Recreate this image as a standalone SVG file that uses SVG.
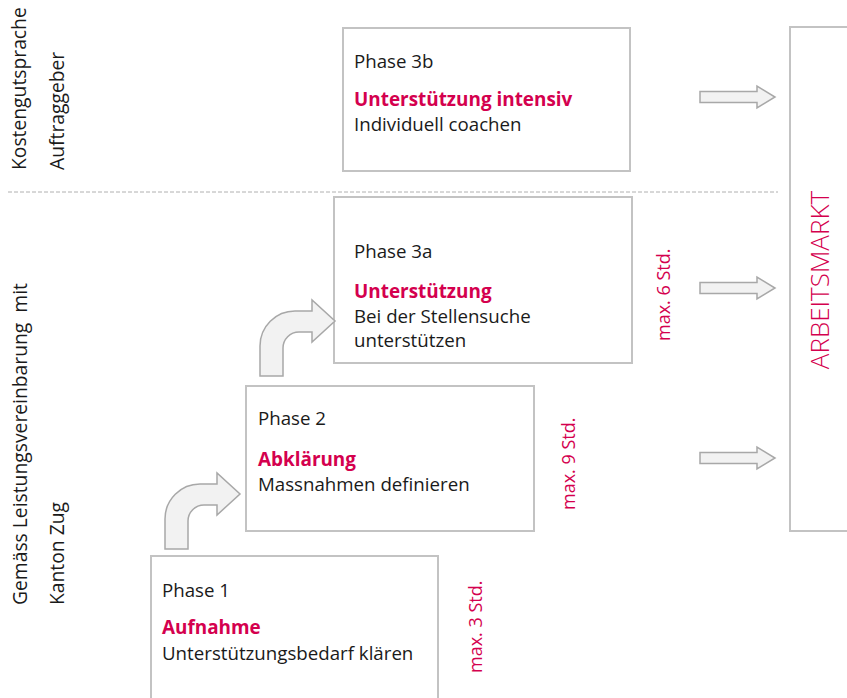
<svg xmlns="http://www.w3.org/2000/svg" width="847" height="698" viewBox="0 0 847 698">
<style>
.box{fill:#fff;stroke:#c3c3c3;stroke-width:2}
.t{font-family:"Open Sans","Liberation Sans",sans-serif;font-size:18.7px;fill:#1a1a1a}
.h{font-family:"Open Sans","Liberation Sans",sans-serif;font-size:18.9px;font-weight:bold;fill:#d4004e}
.side{font-family:"Open Sans","Liberation Sans",sans-serif;font-size:19.3px;fill:#1a1a1a}
.max{font-family:"Open Sans","Liberation Sans",sans-serif;font-size:18px;fill:#d4004e}
.am{font-family:"Open Sans","Liberation Sans",sans-serif;font-size:26px;font-weight:300;fill:#d4004e}
.arr{fill:#f2f2f2;stroke:#a8a8a8;stroke-width:1.5;stroke-linejoin:miter}
</style>
<defs>
<path id="straight" d="M0,-5.5 H57 V-11 L75,0 L57,11 V5.5 H0 Z"/>
<path id="bent" d="M165,549 V519 A35,35 0 0 1 200,484 H217 V473 L240,494 L217,515 V505 H204 A16,16 0 0 0 188,521 V549 Z"/>
</defs>
<rect width="847" height="698" fill="#fff"/>
<g id="labels">
<text class="side" transform="translate(26,170) rotate(-90)">Kostengutsprache</text>
<text class="side" transform="translate(64,170) rotate(-90)">Auftraggeber</text>
<text class="side" transform="translate(27,605) rotate(-90)" xml:space="preserve">Gemäss Leistungsvereinbarung  mit</text>
<text class="side" transform="translate(64,605) rotate(-90)">Kanton Zug</text>
</g>
<line x1="8" y1="192" x2="778" y2="192" stroke="#b0b0b0" stroke-width="1" stroke-dasharray="4,2"/>
<g id="arbeitsmarkt">
<rect class="box" x="790" y="27" width="70" height="504"/>
<text class="am" text-anchor="middle" transform="translate(829,280) rotate(-90)">ARBEITSMARKT</text>
</g>
<g id="phase3b">
<rect class="box" x="343" y="28" width="287" height="143"/>
<text class="t" x="354" y="68">Phase 3b</text>
<text class="h" x="354" y="106">Unterstützung intensiv</text>
<text class="t" x="354" y="131">Individuell coachen</text>
</g>
<g id="phase3a">
<rect class="box" x="334" y="197" width="298" height="166"/>
<text class="t" x="354" y="258">Phase 3a</text>
<text class="h" x="354" y="298">Unterstützung</text>
<text class="t" x="354" y="323">Bei der Stellensuche</text>
<text class="t" x="354" y="347">unterstützen</text>
</g>
<g id="phase2">
<rect class="box" x="246" y="386" width="288" height="145"/>
<text class="t" x="258" y="425">Phase 2</text>
<text class="h" x="258" y="466">Abklärung</text>
<text class="t" x="258" y="491">Massnahmen definieren</text>
</g>
<g id="phase1">
<rect class="box" x="151" y="556" width="287" height="160"/>
<text class="t" x="162" y="597">Phase 1</text>
<text class="h" x="162" y="634">Aufnahme</text>
<text class="t" x="162" y="660">Unterstützungsbedarf klären</text>
</g>
<g id="limits">
<text class="max" transform="translate(482,673) rotate(-90)">max. 3 Std.</text>
<text class="max" transform="translate(575,510) rotate(-90)">max. 9 Std.</text>
<text class="max" transform="translate(670,341) rotate(-90)">max. 6 Std.</text>
</g>
<g id="connectors">
<use href="#bent" class="arr"/>
<use href="#bent" class="arr" transform="translate(95,-173)"/>
<use href="#straight" class="arr" x="700" y="97"/>
<use href="#straight" class="arr" x="700" y="288"/>
<use href="#straight" class="arr" x="700" y="458"/>
</g>
</svg>
